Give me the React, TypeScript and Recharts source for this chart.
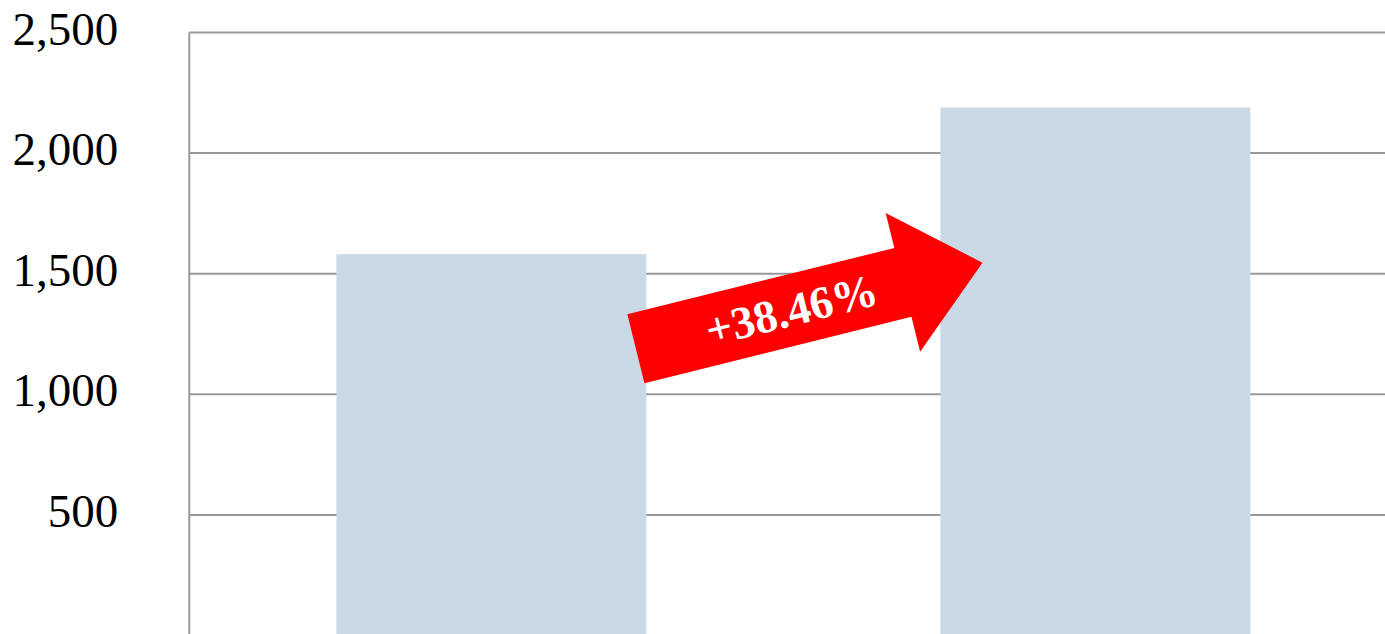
import React from "react";
import { BarChart, Bar, XAxis, YAxis, CartesianGrid, ReferenceLine } from "recharts";

const categories = ["Period 1", "Period 2"];
const values = [1581, 2189];
const yTicks = [500, 1000, 1500, 2000, 2500];
// arrow annotation: value at tail and tip, and fraction of the way between the two category centres
const arrowTail = { frac: 0.2394, value: 1189 };
const arrowTip = { frac: 0.8132, value: 1546 };

const data = categories.map((c, i) => ({ name: c, value: values[i] }));
const change = ((values[1] / values[0] - 1) * 100).toFixed(2);
const changeLabel = `+${change}%`;

const YTick = (props: any) => {
  const { x, y, payload } = props;
  return (
    <text
      x={x}
      y={y + 12}
      textAnchor="end"
      fill="#000000"
      fontSize={47}
      fontFamily="'Liberation Serif', serif"
    >
      {Number(payload.value).toLocaleString("en-US")}
    </text>
  );
};

const ArrowShape = (props: any) => {
  const { x1: cx1, y1, x2: cx2, y2 } = props;
  if ([cx1, y1, cx2, y2].some((v) => typeof v !== "number" || isNaN(v))) return null;
  const x1 = cx1 + (cx2 - cx1) * arrowTail.frac;
  const x2 = cx1 + (cx2 - cx1) * arrowTip.frac;
  const dx = x2 - x1;
  const dy = y2 - y1;
  const len = Math.sqrt(dx * dx + dy * dy);
  const ux = dx / len;
  const uy = dy / len;
  const nx = uy;
  const ny = -ux;
  const sw = 71;
  const hw = 143;
  const hl = 82;
  const bx = x2 - ux * hl;
  const by = y2 - uy * hl;
  const pts = [
    [x1 + nx * sw / 2, y1 + ny * sw / 2],
    [bx + nx * sw / 2, by + ny * sw / 2],
    [bx + nx * hw / 2, by + ny * hw / 2],
    [x2, y2],
    [bx - nx * hw / 2, by - ny * hw / 2],
    [bx - nx * sw / 2, by - ny * sw / 2],
    [x1 - nx * sw / 2, y1 - ny * sw / 2],
  ];
  const angle = (Math.atan2(dy, dx) * 180) / Math.PI;
  const tx = x1 + dx * 0.449;
  const ty = y1 + dy * 0.449;
  return (
    <g>
      <polygon points={pts.map((p) => p.join(",")).join(" ")} fill="#FF0000" />
      <text
        x={tx}
        y={ty}
        transform={`rotate(${angle} ${tx} ${ty})`}
        textAnchor="middle"
        dominantBaseline="central"
        fill="#FFFFFF"
        fontFamily="'Liberation Serif', serif"
        fontWeight="bold"
        fontSize={46}
      >
        {changeLabel}
      </text>
    </g>
  );
};

export default function App() {
  return (
    <div style={{ position: "absolute", left: 0, top: 0 }}>
      <BarChart
        width={1400}
        height={660}
        data={data}
        margin={{ top: 32.5, right: 2.7, bottom: 24.4, left: 0.3 }}
        barCategoryGap="24.35%"
      >
        <CartesianGrid vertical={false} stroke="#999999" strokeWidth={2} />
        <XAxis dataKey="name" hide />
        <YAxis
          width={189}
          domain={[0, 2500]}
          ticks={yTicks}
          interval={0}
          tickLine={false}
          tickSize={6}
          tickMargin={65}
          axisLine={{ stroke: "#999999", strokeWidth: 2 }}
          tick={<YTick />}
        />
        <Bar dataKey="value" fill="#C9D9E6" isAnimationActive={false} />
        <ReferenceLine
          segment={[
            { x: categories[0], y: arrowTail.value },
            { x: categories[1], y: arrowTip.value },
          ]}
          shape={ArrowShape}
          ifOverflow="visible"
        />
      </BarChart>
    </div>
  );
}
